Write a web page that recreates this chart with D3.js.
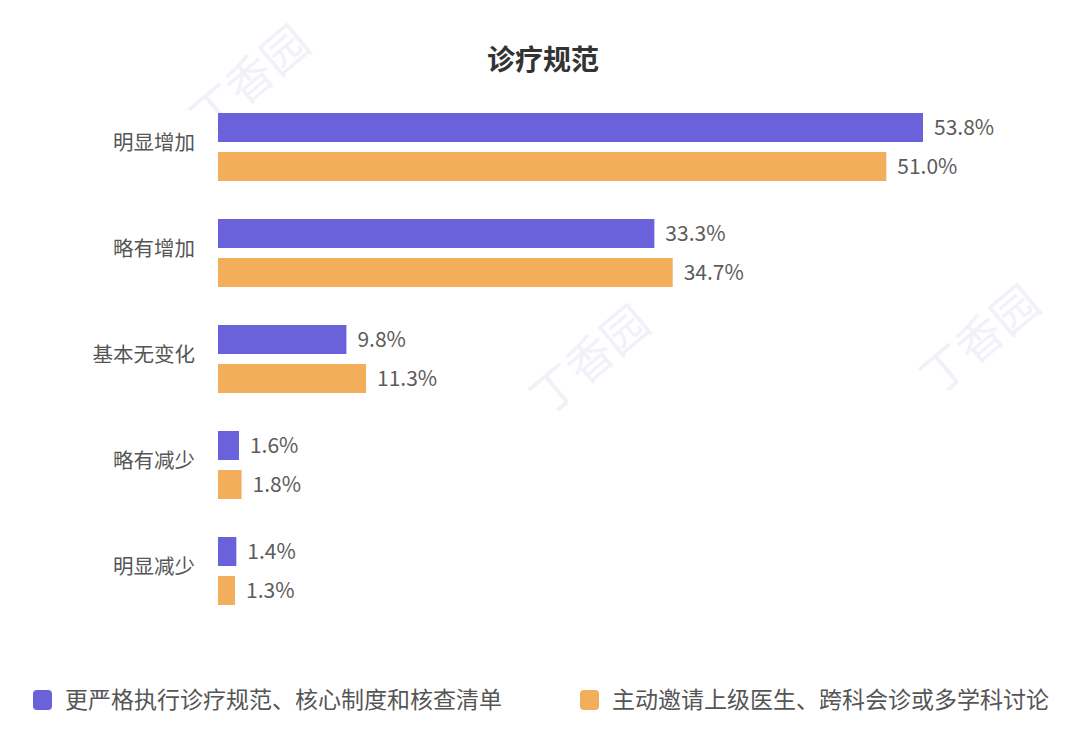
<!DOCTYPE html>
<html>
<head>
<meta charset="utf-8">
<script src="https://cdn.jsdelivr.net/npm/d3@7"></script>
<style>
  body { margin: 0; background: #fff; }
  text { font-family: "Noto Sans CJK SC", "Noto Sans", sans-serif; }
</style>
</head>
<body>
<div id="chart"></div>
<script>
// data
var categories = ["明显增加", "略有增加", "基本无变化", "略有减少", "明显减少"];
var seriesNames = ["更严格执行诊疗规范、核心制度和核查清单", "主动邀请上级医生、跨科会诊或多学科讨论"];
var strictValues = [53.8, 33.3, 9.8, 1.6, 1.4];
var consultValues = [51.0, 34.7, 11.3, 1.8, 1.3];
var colors = ["#6A62DA", "#F3AE5C"];

var svgWidth = 1080;
var svgHeight = 750;

var svg = d3.select("#chart")
  .append("svg")
  .attr("width", svgWidth)
  .attr("height", svgHeight);

// faint watermark
var marks = [[590, 360], [980, 340], [250, 80]];
svg.selectAll(".wm")
  .data(marks)
  .enter()
  .append("text")
  .attr("transform", d => `translate(${d[0]},${d[1]}) rotate(-40)`)
  .attr("text-anchor", "middle")
  .attr("dy", "0.35em")
  .style("font-size", "46px")
  .style("fill", "#f2f1f9")
  .text("丁香园");

// title
svg.append("text")
  .attr("x", 543)
  .attr("y", 70)
  .attr("text-anchor", "middle")
  .style("font-size", "28px")
  .style("font-weight", "bold")
  .style("fill", "#333")
  .text("诊疗规范");

var margin = { left: 218, top: 103 };

var xScale = d3.scaleLinear()
  .domain([0, 53.8])
  .range([0, 705]);

var yScale = d3.scaleBand()
  .domain(categories)
  .range([0, 530])
  .paddingInner(0);

var chartGroup = svg.append("g")
  .attr("transform", `translate(${margin.left},${margin.top})`);

var barH = 29;
var series = [strictValues, consultValues];

series.forEach(function(vals, si) {
  var offset = 10 + si * (barH + 10);
  chartGroup.selectAll(".bar" + si)
    .data(vals)
    .enter()
    .append("rect")
    .attr("x", 0)
    .attr("y", (d, i) => yScale(categories[i]) + offset)
    .attr("width", d => xScale(d))
    .attr("height", barH)
    .attr("fill", colors[si]);

  chartGroup.selectAll(".lbl" + si)
    .data(vals)
    .enter()
    .append("text")
    .attr("x", d => xScale(d) + 11)
    .attr("y", (d, i) => yScale(categories[i]) + offset + barH / 2)
    .attr("dy", "0.35em")
    .style("font-size", "21px")
    .style("fill", "#5c5c5c")
    .text(d => d.toFixed(1) + "%");
});

// category labels
chartGroup.selectAll(".cat")
  .data(categories)
  .enter()
  .append("text")
  .attr("x", -23)
  .attr("y", d => yScale(d) + 10 + barH + 1)
  .attr("dy", "0.35em")
  .attr("text-anchor", "end")
  .style("font-size", "20.5px")
  .style("fill", "#555")
  .text(d => d);

// legend
var legendX = [33, 580];
var legend = svg.selectAll(".legend")
  .data(seriesNames)
  .enter()
  .append("g")
  .attr("transform", (d, i) => `translate(${legendX[i]},700)`);

legend.append("rect")
  .attr("x", 0)
  .attr("y", -10)
  .attr("width", 19)
  .attr("height", 20)
  .attr("rx", 4)
  .attr("fill", (d, i) => colors[i]);

legend.append("text")
  .attr("x", 32)
  .attr("y", 0)
  .attr("dy", "0.35em")
  .style("font-size", "23px")
  .style("fill", "#555")
  .text(d => d);
</script>
</body>
</html>
